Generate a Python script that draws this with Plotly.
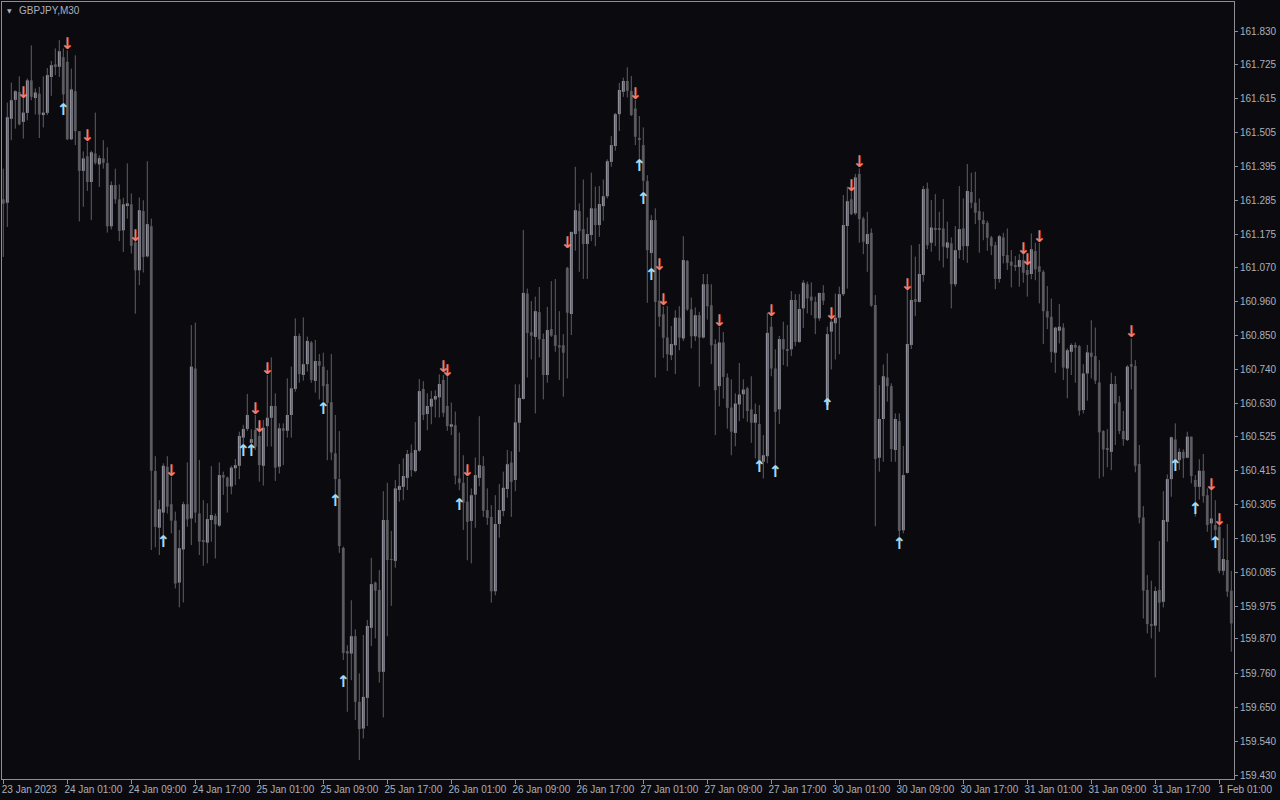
import plotly.graph_objects as go

# ---- data (GBPJPY, M30) ----
opens = [161.289,161.278,161.549,161.610,161.636,161.539,161.568,161.673,161.616,161.630,
161.561,161.568,161.684,161.725,161.717,161.748,161.733,161.483,161.638,161.509,
161.381,161.428,161.345,161.437,161.402,161.421,161.406,161.202,161.335,161.289,
161.189,161.270,161.273,161.150,161.060,161.251,161.105,161.202,160.412,160.229,
160.278,160.426,160.305,160.252,160.052,160.159,160.305,160.259,160.743,160.275,
160.189,160.181,160.254,160.267,160.236,160.399,160.391,160.362,160.421,160.429,
160.520,160.548,160.503,160.544,160.525,160.429,160.557,160.584,160.622,160.426,
160.550,160.542,160.593,160.677,160.848,160.722,160.757,160.827,160.703,160.767,
160.749,160.693,160.634,160.469,160.386,160.164,159.831,159.823,159.879,159.667,
159.581,159.680,159.906,160.052,160.028,159.764,160.254,160.128,160.122,160.351,
160.361,160.390,160.471,160.412,160.478,160.677,160.596,160.620,160.643,160.650,
160.706,160.622,160.555,160.560,160.388,160.374,160.313,160.251,160.336,160.390,
160.428,160.286,160.264,160.024,160.241,160.283,160.354,160.439,160.383,160.568,
160.645,160.985,160.860,160.845,160.925,160.838,160.722,160.870,160.851,160.818,
160.818,161.068,160.919,161.177,161.251,161.193,161.145,161.174,161.260,161.206,
161.267,161.299,161.410,161.461,161.564,161.636,161.671,161.639,161.582,161.487,
161.464,161.348,161.116,161.222,160.962,160.918,160.843,160.786,160.818,160.907,
160.840,161.090,160.934,160.847,160.915,160.843,161.015,160.947,160.822,160.686,
160.827,160.714,160.617,160.535,160.627,160.660,160.679,160.611,160.568,160.564,
160.442,160.460,160.878,160.743,160.611,160.838,160.806,160.805,160.964,160.829,
160.937,161.015,160.975,160.958,160.905,160.987,160.625,160.862,160.889,160.907,
160.983,161.203,161.289,161.244,161.371,161.227,161.145,161.181,160.948,160.455,
160.580,160.714,160.686,160.480,160.573,160.221,160.406,160.819,160.967,160.958,
161.045,161.324,161.149,161.194,161.194,161.195,161.133,161.147,161.015,161.125,
161.195,161.138,161.313,161.278,161.251,161.222,161.213,161.166,161.141,161.032,
161.166,161.109,161.088,161.077,161.071,161.093,161.061,161.048,161.122,161.073,
161.055,160.928,160.910,160.794,160.865,160.875,160.743,160.797,160.819,160.815,
160.609,160.727,160.794,160.783,160.698,160.541,160.485,160.474,160.693,160.634,
160.541,160.512,160.757,160.751,160.435,160.262,160.028,159.918,159.913,160.028,
159.990,160.248,160.386,160.514,160.447,160.474,160.455,160.523,160.383,160.361,
160.413,160.334,160.243,160.238,160.232,160.090,160.125,160.026]

highs = [161.388,161.601,161.666,161.641,161.686,161.636,161.679,161.786,161.647,161.652,
161.686,161.713,161.736,161.776,161.803,161.776,161.770,161.711,161.754,161.509,
161.444,161.474,161.446,161.569,161.431,161.480,161.457,161.347,161.388,161.337,
161.294,161.405,161.308,161.184,161.295,161.286,161.412,161.227,160.460,160.318,
160.437,160.460,160.394,160.281,160.222,160.313,160.440,160.883,160.891,160.448,
160.318,160.308,160.428,160.275,160.440,160.410,160.394,160.429,160.451,160.539,
160.561,160.661,160.547,160.593,160.544,160.577,160.722,160.779,160.663,160.566,
160.566,160.711,160.749,160.905,160.856,160.908,160.846,160.832,160.835,160.790,
160.794,160.738,160.790,160.593,160.541,160.168,159.850,159.995,159.901,159.759,
159.883,159.931,160.132,160.055,160.092,160.347,160.374,160.219,160.383,160.435,
160.453,160.480,160.498,160.570,160.709,160.702,160.663,160.671,160.673,160.724,
160.722,160.722,160.633,160.604,160.536,160.463,160.393,160.356,160.456,160.589,
160.460,160.356,160.302,160.334,160.370,160.410,160.480,160.476,160.692,160.692,
161.190,161.001,160.961,160.975,161.006,160.856,160.942,161.025,161.032,160.928,
160.854,161.071,161.184,161.394,161.276,161.353,161.231,161.375,161.330,161.332,
161.353,161.418,161.493,161.568,161.665,161.682,161.715,161.687,161.611,161.558,
161.521,161.367,161.238,161.260,161.061,160.944,160.944,160.880,160.931,160.944,
161.170,161.093,160.972,160.940,160.926,161.048,161.048,161.015,160.837,160.878,
160.861,160.727,160.708,160.663,160.761,160.708,160.684,160.718,160.630,160.625,
160.528,160.923,160.910,160.805,160.848,160.894,160.883,160.993,160.983,160.983,
161.028,161.023,161.021,160.975,160.987,161.012,160.878,160.905,160.985,161.007,
161.303,161.330,161.324,161.371,161.389,161.233,161.249,161.195,160.980,160.689,
160.756,160.792,160.695,160.598,160.598,160.493,160.996,161.141,161.104,161.145,
161.332,161.343,161.287,161.306,161.249,161.290,161.217,161.166,161.203,161.332,
161.292,161.403,161.375,161.378,161.292,161.249,161.220,161.171,161.152,161.174,
161.181,161.195,161.125,161.106,161.112,161.125,161.077,161.179,161.149,161.149,
161.061,161.009,160.969,160.878,160.951,160.889,160.808,160.824,160.827,160.819,
160.757,160.819,160.899,160.875,160.770,160.544,160.547,160.730,160.719,160.654,
160.606,160.754,160.840,160.770,160.496,160.299,160.076,160.058,160.039,160.186,
160.347,160.401,160.523,160.566,160.485,160.482,160.539,160.523,160.399,160.450,
160.467,160.356,160.351,160.318,160.238,160.195,160.241,160.090]

lows = [161.103,161.200,161.480,161.517,161.528,161.485,161.544,161.609,161.563,161.487,
161.521,161.561,161.623,161.690,161.684,161.582,161.480,161.480,161.464,161.218,
161.265,161.316,161.222,161.401,161.329,161.388,161.182,161.192,161.275,161.154,
161.119,161.227,161.114,160.920,161.012,161.053,161.101,160.157,160.166,160.141,
160.168,160.275,160.211,160.033,159.972,159.988,160.232,160.173,160.245,160.141,
160.106,160.114,160.184,160.130,160.232,160.335,160.278,160.337,160.367,160.386,
160.460,160.541,160.491,160.480,160.378,160.365,160.491,160.491,160.380,160.404,
160.431,160.520,160.520,160.668,160.697,160.704,160.733,160.697,160.665,160.643,
160.636,160.447,160.447,160.329,160.148,159.802,159.635,159.737,159.608,159.479,
159.549,159.589,159.847,159.872,159.729,159.617,159.879,159.977,160.100,160.313,
160.318,160.351,160.394,160.408,160.474,160.577,160.544,160.563,160.585,160.585,
160.587,160.542,160.528,160.369,160.350,160.222,160.124,160.114,160.229,160.363,
160.264,160.238,159.987,160.011,160.197,160.266,160.326,160.264,160.347,160.474,
160.643,160.714,160.772,160.598,160.779,160.643,160.697,160.845,160.797,160.706,
160.652,160.711,160.851,161.123,161.055,161.032,161.032,161.154,161.138,161.168,
161.220,161.292,161.394,161.446,161.510,161.620,161.618,161.558,161.464,161.394,
161.297,160.955,161.050,160.714,160.878,160.777,160.735,160.770,160.725,160.802,
160.832,160.929,160.808,160.832,160.684,160.840,160.901,160.757,160.528,160.621,
160.646,160.549,160.463,160.492,160.573,160.582,160.571,160.503,160.453,160.431,
160.388,160.437,160.718,160.415,160.564,160.754,160.749,160.783,160.815,160.826,
160.874,160.921,160.915,160.854,160.897,160.948,160.620,160.740,160.772,160.789,
160.977,161.001,161.238,161.238,161.149,161.112,161.055,160.942,160.234,160.410,
160.442,160.636,160.442,160.442,160.195,160.211,160.404,160.806,160.912,160.956,
161.023,161.128,161.120,161.138,161.091,161.069,161.098,160.937,161.007,161.098,
161.093,161.084,161.260,161.209,161.117,161.157,161.123,161.109,160.999,161.020,
161.082,161.061,161.005,161.058,161.007,161.020,160.975,161.031,161.028,160.953,
160.822,160.870,160.762,160.729,160.824,160.706,160.647,160.722,160.697,160.591,
160.598,160.639,160.711,160.693,160.388,160.394,160.424,160.415,160.496,160.531,
160.494,160.509,160.676,160.408,160.243,159.936,159.888,159.872,159.746,159.893,
159.972,160.184,160.329,160.431,160.415,160.390,160.453,160.372,160.265,160.320,
160.310,160.216,160.187,160.187,160.082,160.076,160.006,159.829]

closes = [161.275,161.554,161.609,161.638,161.531,161.569,161.673,161.620,161.634,161.563,
161.569,161.690,161.722,161.719,161.767,161.628,161.483,161.644,161.509,161.381,
161.421,161.345,161.441,161.407,161.422,161.407,161.202,161.335,161.289,161.187,
161.273,161.276,161.139,161.060,161.254,161.103,161.209,160.413,160.232,160.289,
160.429,160.297,160.252,160.049,160.163,160.305,160.256,160.749,160.278,160.184,
160.184,160.257,160.270,160.240,160.399,160.391,160.362,160.423,160.431,160.525,
160.548,160.593,160.515,160.491,160.431,160.552,160.584,160.622,160.423,160.550,
160.542,160.593,160.679,160.848,160.725,160.757,160.832,160.706,160.767,160.752,
160.686,160.632,160.472,160.386,160.170,159.825,159.823,159.879,159.667,159.579,
159.683,159.912,160.047,160.026,159.764,160.254,160.125,160.125,160.356,160.364,
160.396,160.467,160.415,160.480,160.670,160.593,160.622,160.645,160.654,160.693,
160.600,160.557,160.563,160.397,160.374,160.310,160.248,160.334,160.399,160.431,
160.284,160.261,160.024,160.241,160.286,160.358,160.434,160.377,160.569,160.648,
160.987,160.858,160.849,160.928,160.837,160.722,160.867,160.849,160.816,160.811,
160.794,160.923,161.184,161.254,161.186,161.145,161.177,161.260,161.206,161.274,
161.299,161.412,161.464,161.564,161.642,161.671,161.639,161.561,161.491,161.483,
161.349,161.125,161.222,160.958,160.910,160.842,160.789,160.822,160.907,160.843,
161.093,160.934,160.847,160.915,160.843,161.015,160.944,160.818,160.673,160.827,
160.716,160.616,160.539,160.630,160.659,160.675,160.606,160.568,160.596,160.442,
160.463,160.858,160.743,160.603,160.838,160.805,160.802,160.964,160.829,160.935,
161.020,160.969,160.962,160.905,160.987,160.962,160.854,160.894,160.907,160.983,
161.206,161.283,161.241,161.360,161.225,161.152,161.177,160.946,160.451,160.580,
160.718,160.686,160.483,160.580,160.219,160.399,160.822,160.964,160.958,161.048,
161.322,161.141,161.198,161.191,161.191,161.136,161.150,161.015,161.125,161.193,
161.138,161.316,161.278,161.246,161.222,161.209,161.165,161.138,161.032,161.170,
161.106,161.084,161.075,161.071,161.093,161.052,161.045,161.128,161.063,161.055,
160.928,160.908,160.797,160.875,160.878,160.746,160.802,160.819,160.810,160.607,
160.727,160.795,160.781,160.704,160.537,160.482,160.480,160.693,160.630,160.541,
160.515,160.749,160.749,160.429,160.262,160.026,159.918,159.915,160.025,159.987,
160.254,160.386,160.521,160.447,160.474,160.453,160.523,160.396,160.361,160.413,
160.331,160.238,160.259,160.222,160.090,160.128,160.023,159.920]

# indicator arrows: bar index and price level of the arrow
sell_idx = [5,16,21,33,42,63,64,66,110,111,116,141,158,164,165,179,192,207,212,214,226,255,256,259,282,302,304]
sell_px = [161.629,161.787,161.490,161.167,160.409,160.609,160.551,160.738,160.744,160.732,160.409,161.145,
           161.625,161.074,160.961,160.893,160.925,160.915,161.329,161.406,161.009,161.125,161.090,161.164,
           160.857,160.364,160.251]
buy_idx = [15,40,60,62,80,83,85,114,159,160,162,189,193,206,224,293,298,303]
buy_px = [161.574,160.180,160.473,160.473,160.609,160.312,159.728,160.299,161.393,161.287,161.041,
          160.422,160.406,160.622,160.173,160.425,160.286,160.177]

# axis labels
price_ticks = [161.830,161.725,161.615,161.505,161.395,161.285,161.175,161.070,160.960,160.850,
               160.740,160.630,160.525,160.415,160.305,160.195,160.085,159.975,159.870,159.760,
               159.650,159.540,159.430]
time_tick_idx = [0,16,32,48,64,80,96,112,128,144,160,176,192,208,224,240,256,272,288,304]
time_tick_text = ["23 Jan 2023","24 Jan 01:00","24 Jan 09:00","24 Jan 17:00","25 Jan 01:00",
                  "25 Jan 09:00","25 Jan 17:00","26 Jan 01:00","26 Jan 09:00","26 Jan 17:00",
                  "27 Jan 01:00","27 Jan 09:00","27 Jan 17:00","30 Jan 01:00","30 Jan 09:00",
                  "30 Jan 17:00","31 Jan 01:00","31 Jan 09:00","31 Jan 17:00","1 Feb 01:00"]

BG = "#0b0b0f"
BULL = "#9a9aa6"
BEAR = "#56565c"
WICK = "#5e5e66"
FRAME = "#8e8e96"
TXT = "#aab0be"

n = len(opens)
idx = list(range(n))

bx, bbase, bh = [], [], []
rx, rbase, rh = [], [], []
wx, wy = [], []
for i in idx:
    o, h, l, c = opens[i], highs[i], lows[i], closes[i]
    wx += [i, i, None]
    wy += [min(l, o, c), max(h, o, c), None]
    if c >= o:
        bx.append(i); bbase.append(o); bh.append(c - o)
    else:
        rx.append(i); rbase.append(c); rh.append(o - c)

fig = go.Figure()
fig.add_trace(go.Scatter(x=wx, y=wy, mode="lines", line=dict(color=WICK, width=1),
                         hoverinfo="skip", showlegend=False))
fig.add_trace(go.Bar(x=rx, y=rh, base=rbase, width=0.72, marker=dict(color=BEAR, line=dict(width=0)),
                     showlegend=False, hoverinfo="skip"))
fig.add_trace(go.Bar(x=bx, y=bh, base=bbase, width=0.72, marker=dict(color=BULL, line=dict(width=0)),
                     showlegend=False, hoverinfo="skip"))
fig.add_trace(go.Scatter(x=sell_idx, y=sell_px, mode="text", text=["↓"] * len(sell_idx),
                         textposition="middle center",
                         textfont=dict(family="DejaVu Sans", size=16, color="#f47c68", weight="bold"),
                         showlegend=False, hoverinfo="skip"))
fig.add_trace(go.Scatter(x=buy_idx, y=buy_px, mode="text", text=["↑"] * len(buy_idx),
                         textposition="middle center",
                         textfont=dict(family="DejaVu Sans", size=16, color="#a2dcf2", weight="bold"),
                         showlegend=False, hoverinfo="skip"))

fig.update_layout(
    width=1280, height=800,
    margin=dict(l=2, r=46, t=2, b=21, autoexpand=False),
    paper_bgcolor=BG, plot_bgcolor=BG,
    barmode="overlay",
    showlegend=False,
    font=dict(family="Liberation Sans", size=10, color=TXT),
    xaxis=dict(range=[-0.325, 307.675], showgrid=False, zeroline=False,
               showline=True, linecolor=FRAME, linewidth=1, mirror=True,
               tickmode="array", tickvals=time_tick_idx, ticktext=time_tick_text,
               ticks="outside", ticklen=4, tickcolor=FRAME, ticklabelshift=26,
               ticklabelstandoff=-3, automargin=False,
               tickfont=dict(family="Liberation Sans", size=10, color=TXT)),
    yaxis=dict(range=[159.418, 161.926], side="right", showgrid=False, zeroline=False,
               showline=True, linecolor=FRAME, linewidth=1, mirror=True,
               tickmode="array", tickvals=price_ticks,
               ticktext=[f"{v:.3f}" for v in price_ticks],
               ticks="outside", ticklen=3, tickcolor=FRAME, automargin=False,
               tickfont=dict(family="Liberation Sans", size=10, color=TXT)),
)

fig.add_annotation(xref="paper", yref="paper", x=(5 - 2) / 1232, y=1 - (10 - 2) / 777,
                   text="▼", showarrow=False, xanchor="left", yanchor="middle",
                   font=dict(family="DejaVu Sans", size=6, color=TXT))
fig.add_annotation(xref="paper", yref="paper", x=(17 - 2) / 1232, y=1 - (10 - 2) / 777,
                   text="GBPJPY,M30", showarrow=False, xanchor="left", yanchor="middle",
                   font=dict(family="Liberation Sans", size=10, color=TXT))

fig.write_html("out.html", config={"displayModeBar": False},
               post_script="document.body.style.margin='0';document.body.style.overflow='hidden';")
